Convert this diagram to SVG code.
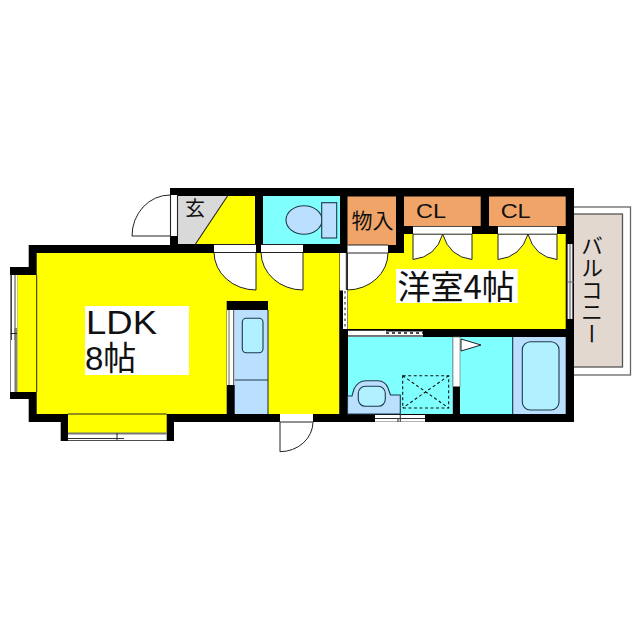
<svg xmlns="http://www.w3.org/2000/svg" width="640" height="640" viewBox="0 0 640 640">
<style>
.y{fill:#ffff00}.c{fill:#80ffff}.b{fill:#bbdfff}.o{fill:#f0a468}.w{fill:#fff}
.l{fill:none;stroke:#222;stroke-width:1.1}
.door{fill:#fff;stroke:#222;stroke-width:1}
.fx{stroke:#1c3a48;stroke-width:1.1}
.g{fill:none;stroke:#666;stroke-width:1.2}
.d{fill:none;stroke:#111;stroke-width:1.1;stroke-dasharray:3 2.5}
.jp{font-family:"Noto Sans CJK JP","Noto Sans",sans-serif;fill:#111}
.la{font-family:"Liberation Sans","Noto Sans CJK JP",sans-serif;fill:#111}
</style>
<rect width="640" height="640" fill="#fff"/>
<g id="balcony">
<rect x="572" y="207" width="58.500" height="168" fill="#fff" stroke="#666" stroke-width="1.300"/>
<rect x="572" y="214" width="50.500" height="153" fill="#e2d8d0" stroke="#555" stroke-width="1.300"/>
<text class="jp" x="592" y="235" font-size="22" style="writing-mode:vertical-rl" dominant-baseline="central">バルコニー</text>
</g>
<g id="walls">
<path fill="#000" d="M170 188H574V422H174V441H60.700V422H28.700V399H10V267H28.700V245H170Z"/>
</g>
<g id="rooms">
<path class="y" d="M36.700 253H339.500V414H36.700Z"/>
<rect class="y" x="17.300" y="275" width="20" height="117"/>
<rect class="y" x="68" y="414" width="98.700" height="19"/>
<path d="M36.700 275V392M68 414H166.700" stroke="#222" stroke-width="1" fill="none"/>
<path class="y" d="M178 196H255V244H178Z"/>
<path d="M178 196H227.500L195.500 244H178Z" fill="#d9d9d9"/>
<path d="M227.500 196L195.500 244" class="l"/>
<rect class="c" x="263" y="196" width="77" height="48"/>
<rect class="o" x="347.500" y="196.500" width="48.500" height="48.500"/>
<rect class="o" x="404" y="196.500" width="76.700" height="29.500"/>
<rect class="o" x="489" y="196.500" width="76.700" height="29.500"/>
<path class="y" d="M347.500 253H404V234H565.700V329H347.500Z"/>
<rect class="c" x="347.500" y="337" width="105.300" height="77"/>
<rect class="c" x="460" y="337" width="52.700" height="77"/>
<rect class="b" x="512.700" y="337" width="53" height="77"/>
<path d="M512.700 337V414" class="fx"/>
<rect x="226.700" y="301" width="41.300" height="113" fill="#000"/>
<rect class="b" x="234.700" y="310" width="33.300" height="104"/>
<rect class="w" x="227" y="310" width="7.700" height="75"/>
<path d="M229 310V385M233.500 310V385" stroke="#666" stroke-width="1" fill="none"/>
<path d="M268 310V414" class="fx"/>
<rect x="339.500" y="290" width="8.500" height="124" fill="#000"/>
<rect x="453" y="337" width="7" height="77" fill="#000"/>
</g>
<g id="fixtures">
<ellipse class="fx" cx="304" cy="220" rx="18" ry="14.300" fill="#bbdfff"/>
<rect class="fx" x="321.700" y="202.700" width="15" height="35.300" fill="#bbdfff"/>
<path d="M234.700 380H268" class="fx" fill="none"/>
<rect class="fx" x="242.300" y="318.300" width="20.700" height="34.400" rx="4" fill="#b0f0ff"/>
<rect class="fx" x="522.300" y="341.700" width="36.700" height="68.300" rx="8" fill="#b0f0ff"/>
<path class="fx" fill="#bbdfff" d="M347.500 396H352L354 389Q358 380.700 366 380.700H378Q385 380.700 388 388L390.500 395H400.300V414H347.500Z"/>
<rect class="fx" x="358.300" y="386.300" width="27" height="20" rx="7" fill="#b0f0ff"/>
<rect class="d" x="402.700" y="375.700" width="46" height="32.300"/>
<path class="d" d="M402.700 375.700L448.700 408M448.700 375.700L402.700 408"/>
</g>
<g id="openings">
<rect class="w" x="170.500" y="195" width="7" height="41"/>
<path class="door" d="M170 195A38 41 0 0 0 132 236H171"/>
<path d="M170.500 195V236M177.500 195V236" class="l" stroke="#222"/>
<rect class="w" x="214" y="244.500" width="42" height="8"/>
<rect class="w" x="261" y="244.500" width="42" height="8"/>
<path class="door" d="M214 252.500A42 38 0 0 0 256 290V252.500"/>
<path class="door" d="M261 252.500A42 38 0 0 0 303 290V252.500"/>
<path d="M214 244.500H256M214 252.500H256M261 244.500H303M261 252.500H303" class="l"/>
<rect class="w" x="347.500" y="245" width="40.500" height="8"/>
<path class="door" d="M347.500 253V290A41 37 0 0 0 388 253Z"/>
<path d="M347.500 245H388" class="l"/>
<rect class="w" x="340" y="253" width="6" height="37.500"/>
<path d="M346.700 253V290" stroke="#333" stroke-width="1.800"/>
<rect class="w" x="343" y="290" width="4.500" height="39"/>
<path d="M345 291V329" stroke="#666" stroke-width="1.500" stroke-dasharray="2.500 3"/>
<rect class="w" x="413" y="226.700" width="59" height="7.500"/>
<path class="door" d="M413 234.200V259.500Q436 257 442.700 234.200Z"/>
<path class="door" d="M472 234.200V259.500Q449.500 257 442.700 234.200Z"/>
<rect class="w" x="498" y="226.700" width="59" height="7.500"/>
<path class="door" d="M498 234.200V259.500Q521 257 528 234.200Z"/>
<path class="door" d="M557 234.200V259.500Q534.500 257 528 234.200Z"/>
<rect class="w" x="567" y="244" width="6" height="75"/>
<path class="g" d="M567.500 244V319M572.500 244V319M570 244V319M567 282H574"/>
<rect class="w" x="348" y="330" width="75" height="6.700"/>
<path d="M348 330.500H385.500M348 335.800H423" stroke="#444" stroke-width="1.200" fill="none"/>
<path d="M386 333H423" stroke="#111" stroke-width="1.500" stroke-dasharray="3 3"/>
<rect x="386" y="329" width="37" height="2.500" fill="#000"/>
<rect class="w" x="453" y="337" width="7" height="49.700" stroke="#666" stroke-width=".6"/>
<path class="door" d="M461 339L481 345L461 351Z"/>
<rect class="w" x="375" y="415" width="50" height="6.700"/>
<path d="M375 418.500H425M400.300 414V421.700M398 418.500V422" stroke="#333" stroke-width="1.100"/>
<rect class="w" x="280" y="414" width="33" height="8"/>
<path class="door" d="M280 422V451.700A33 30 0 0 0 313 422Z"/>
<rect class="w" x="10.500" y="275" width="6.800" height="117"/>
<path d="M11.500 275V340M15 275V340" stroke="#444" stroke-width="1" fill="none"/>
<path d="M15.700 328V392" stroke="#777" stroke-width="2.400"/>
<path d="M10.500 333.500H17" stroke="#222" stroke-width="1"/>
<rect class="w" x="68" y="433" width="98.700" height="7.300"/>
<path d="M68 433.500H166.700" stroke="#777" stroke-width="1.800"/>
<path d="M68 438.500H124" stroke="#333" stroke-width="1"/>
<path d="M117 433V440" stroke="#222" stroke-width="1"/>
</g>
<g id="labels">
<text class="jp" x="185" y="216" font-size="20">玄</text>
<text class="jp" x="351.500" y="228" font-size="21">物入</text>
<text class="la" x="416" y="217.500" font-size="21" textLength="30" lengthAdjust="spacingAndGlyphs">CL</text>
<text class="la" x="500.700" y="217.500" font-size="21" textLength="30" lengthAdjust="spacingAndGlyphs">CL</text>
<rect class="w" x="396" y="269" width="121.700" height="34"/>
<text class="jp" x="397.500" y="298.500" font-size="33">洋室4帖</text>
<rect class="w" x="85" y="306" width="104" height="69"/>
<text class="la" x="86" y="334" font-size="33" textLength="71" lengthAdjust="spacingAndGlyphs">LDK</text>
<text class="la" x="85" y="370" font-size="33">8帖</text>
</g>
</svg>
